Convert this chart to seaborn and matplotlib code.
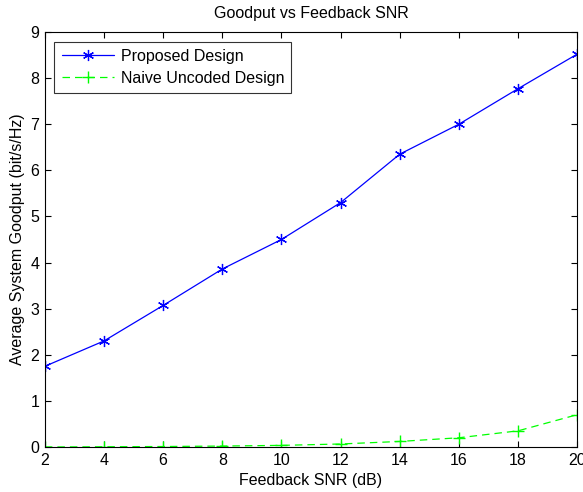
import matplotlib
matplotlib.use("Agg")
import matplotlib.pyplot as plt
import seaborn as sns
import pandas as pd

snr = [2, 4, 6, 8, 10, 12, 14, 16, 18, 20]
proposed = [1.75, 2.3, 3.07, 3.86, 4.5, 5.3, 6.35, 7.0, 7.77, 8.52]
naive = [0.0, 0.005, 0.01, 0.02, 0.035, 0.065, 0.12, 0.2, 0.35, 0.70]

sns.set_theme(style="white")
plt.rcParams['font.family'] = ['Liberation Sans', 'DejaVu Sans']
plt.rcParams['text.color'] = 'black'
plt.rcParams['axes.labelcolor'] = 'black'

df = pd.DataFrame({"snr": snr, "Proposed Design": proposed, "Naive Uncoded Design": naive})

fig = plt.figure(figsize=(5.83, 4.92), dpi=100)
ax = fig.add_axes([0.077, 0.0915, 0.913, 0.8435])

fs = 11.5
sns.lineplot(data=df, x="snr", y="Proposed Design", ax=ax, color="blue", marker=(6, 2, 0),
             markersize=8, markeredgecolor="blue", markeredgewidth=0.9, linewidth=0.9,
             label="Proposed Design")
sns.lineplot(data=df, x="snr", y="Naive Uncoded Design", ax=ax, color="#00ff00", marker="+",
             markersize=9, markeredgecolor="#00ff00", markeredgewidth=1.0, linewidth=0.9,
             label="Naive Uncoded Design")
ax.lines[1].set_dashes((6, 4))

ax.set_xlim(2, 20)
ax.set_ylim(0, 9)
ax.set_xticks(snr)
ax.set_yticks(range(0, 10))
ax.tick_params(direction="in", length=4, width=0.8, colors="black", labelsize=fs,
               top=True, right=True, bottom=True, left=True, pad=4)
for s in ax.spines.values():
    s.set_color("black")
    s.set_linewidth(0.8)
ax.set_xlabel("Feedback SNR (dB)", fontsize=fs, labelpad=4, color="black")
ax.set_ylabel("Average System Goodput (bit/s/Hz)", fontsize=fs, labelpad=4, color="black")
ax.set_title("Goodput vs Feedback SNR", fontsize=fs, pad=10, color="black")
leg = ax.legend(handles=ax.lines[:2], labels=["Proposed Design", "Naive Uncoded Design"],
                loc="upper left", fontsize=fs, frameon=True, fancybox=False,
                edgecolor="black", borderaxespad=0.6, handlelength=3.3, handletextpad=0.4,
                borderpad=0.45, labelspacing=0.45)
leg.get_frame().set_linewidth(0.8)
for t in leg.get_texts():
    t.set_color("black")

fig.savefig("out.png", dpi=100)
